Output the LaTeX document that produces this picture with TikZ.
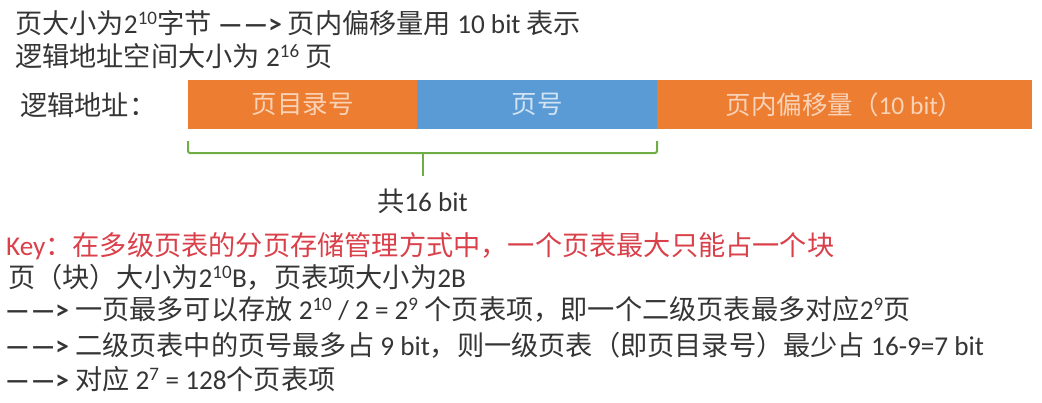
\documentclass[tikz,border=0pt]{standalone}
\usepackage{fontspec}
\usepackage{xcolor}
\usepackage{tikz}
\usetikzlibrary{positioning}
\setmainfont{Noto Sans CJK SC}
\newfontfamily\en{Carlito}
\definecolor{segorange}{HTML}{ED7D31}
\definecolor{segblue}{HTML}{5B9BD5}
\definecolor{orangetext}{HTML}{F9D3B8}
\definecolor{bluetext}{HTML}{D2E3F4}
\definecolor{bracegreen}{HTML}{70AD47}
\definecolor{keyred}{HTML}{D9404A}
\definecolor{ink}{HTML}{353535}
\newcommand{\lat}[1]{{\en #1}}
\newcommand{\twoto}[1]{{\en 2\textsuperscript{#1}}}
\newcommand{\darr}{\lat{\bfseries —\kern1pt—>}}

\begin{document}
\begin{tikzpicture}[x=1pt,y=-1pt,
  txt/.style={anchor=west,inner sep=0pt,text=ink,font=\fontsize{27.2}{32}\selectfont},
  seg/.style={minimum height=49pt,inner sep=0pt,outer sep=0pt,font=\fontsize{25.5}{30}\selectfont},
  brace/.style={draw=bracegreen,line width=2pt,rounded corners=2pt}]
  \useasboundingbox (0,0) rectangle (1042,402);
  \node[txt] (pagesize) at (15,23) {页大小为\twoto{10}字节 \darr{} 页内偏移量用 \lat{10 bit} 表示};
  \node[txt] (space) at (15,56) {逻辑地址空间大小为 \twoto{16} 页};
  \node[txt] (addrlabel) at (20,105) {逻辑地址：};
  \node[seg,anchor=north west,fill=segorange,text=orangetext,minimum width=229pt] (dir) at (188,80) {页目录号};
  \node[seg,fill=segblue,text=bluetext,minimum width=240pt,right=0pt of dir] (page) {页号};
  \node[seg,fill=segorange,text=orangetext,minimum width=375pt,right=0pt of page] (offset) {页内偏移量（\lat{10 bit}）};
  \coordinate (bl) at ([yshift=-12pt]dir.south west);
  \coordinate (br) at ([yshift=-12pt]page.south east);
  \coordinate (bb) at ([yshift=-12pt]br);
  \node[txt,anchor=center,inner ysep=12pt] (total) at (422.5,201) {共\lat{16 bit}};
  \path[brace] (bl) |- (bb) -- (br);
  \path[brace] (bb -| total) -- (total);
  \node[txt,text=keyred] (key) at (6,246) {\lat{Key}：在多级页表的分页存储管理方式中，一个页表最大只能占一个块};
  \node[txt] (block) at (8,277) {页（块）大小为\twoto{10}\lat{B}，页表项大小为\lat{2B}};
  \node[txt] (step1) at (5,309) {\darr{} 一页最多可以存放 \twoto{10} \lat{/ 2 =} \twoto{9} 个页表项，即一个二级页表最多对应\twoto{9}页};
  \node[txt] (step2) at (5,345) {\darr{} 二级页表中的页号最多占 \lat{9 bit}，则一级页表（即页目录号）最少占 \lat{16-9=7 bit}};
  \node[txt] (step3) at (5,379) {\darr{} 对应 \twoto{7} \lat{= 128}个页表项};
\end{tikzpicture}
\end{document}
